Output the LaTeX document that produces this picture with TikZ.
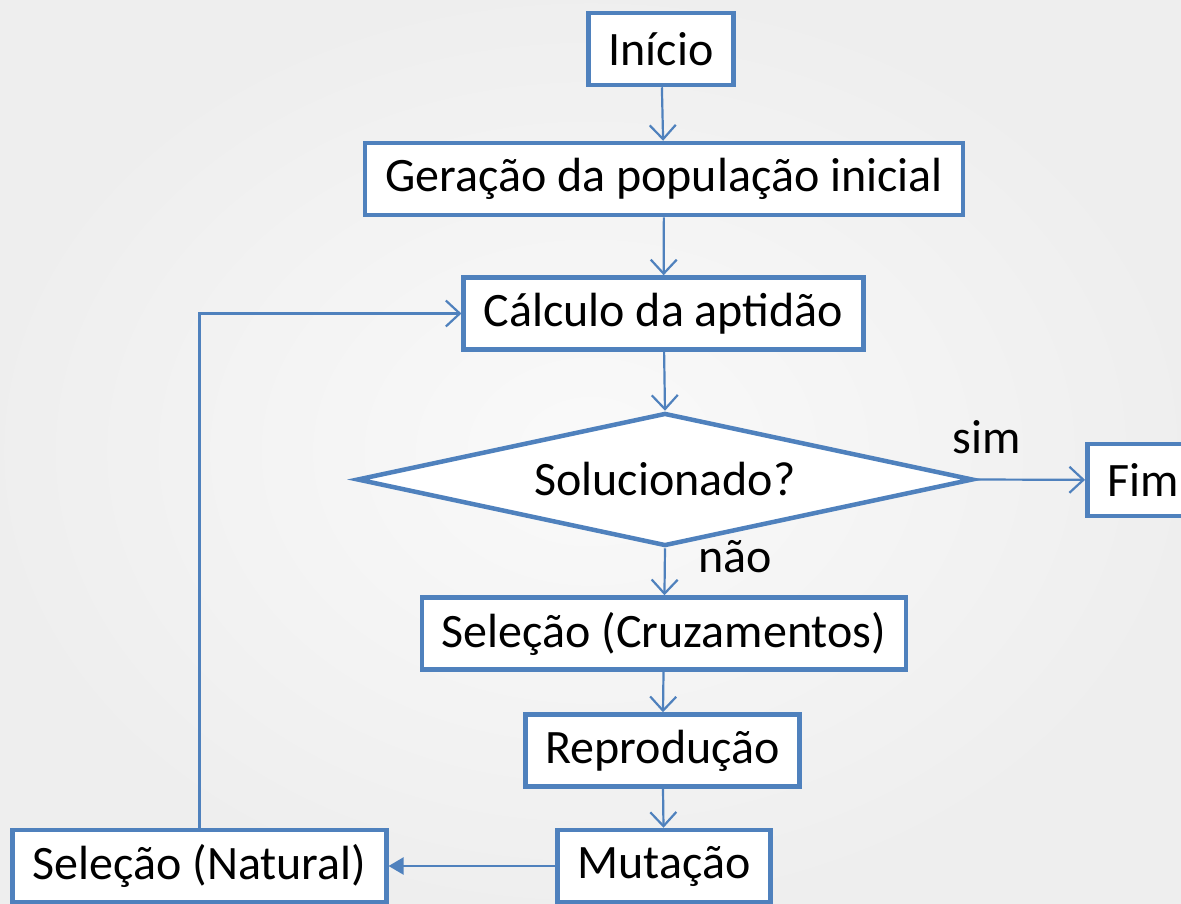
\documentclass[tikz,border=0pt]{standalone}
\usepackage{fontspec}
\setmainfont{Carlito}
\usetikzlibrary{arrows.meta,shapes.geometric}

\definecolor{azul}{HTML}{4F81BD}

\tikzset{
  caixa/.style={draw=azul, line width=4.5pt, fill=white, inner xsep=20pt,
    minimum height=72pt, font=\fontsize{48}{56}\selectfont},
  decisao/.style={diamond, draw=azul, line width=4.5pt, fill=white, aspect=4.5,
    inner sep=0pt, minimum width=616pt, minimum height=133pt,
    font=\fontsize{48}{56}\selectfont},
  seta/.style={draw=azul, line width=2.2pt, -{Straight Barb[length=14pt,width=26pt]}},
  rotulo/.style={font=\fontsize{48}{56}\selectfont}
}

\begin{document}
\begin{tikzpicture}[x=1pt,y=-1pt]

\clip (0,0) rectangle (1181,903);
\shade[inner color=gray!4, outer color=gray!13] (0,0) rectangle (1181,903);

% caixas
\node[caixa] (inicio) at (661,49) {Início};
\node[caixa] (geracao) at (664,179) {Geração da população inicial};
\node[caixa] (calculo) at (663.5,313.5) {Cálculo da aptidão};
\node[decisao] (solucionado) at (665,479.5) {Solucionado?};
\node[caixa] (fim) at (1143,480) {Fim};
\node[caixa] (cruzamentos) at (664,633.5) {Seleção (Cruzamentos)};
\node[caixa] (reproducao) at (662.5,750.5) {Reprodução};
\node[caixa] (mutacao) at (664,866) {Mutação};
\node[caixa] (natural) at (199.5,866) {Seleção (Natural)};

% rotulos
\node[rotulo] (sim) at (987,437) {sim};
\node[rotulo] (nao) at (735,557) {não};

% setas
\draw[seta] (inicio) -- (geracao);
\draw[seta] (geracao) -- (calculo);
\draw[seta] (calculo) -- (solucionado.north);
\draw[seta] (solucionado.east) -- (fim);
\draw[seta] (solucionado.south) -- (cruzamentos);
\draw[seta] (cruzamentos) -- (reproducao);
\draw[seta] (reproducao) -- (mutacao);
\draw[draw=azul, line width=2.2pt, -{Triangle[length=15pt,width=17pt]}] (mutacao) -- (natural);
\draw[seta] (natural.north) |- (calculo.west);

\end{tikzpicture}
\end{document}
